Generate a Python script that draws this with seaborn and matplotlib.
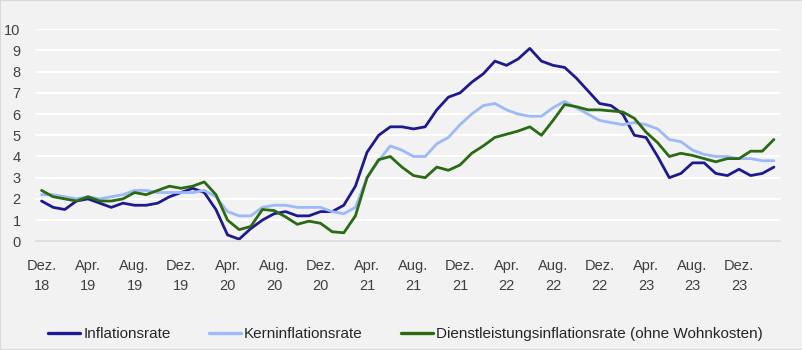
import matplotlib
matplotlib.use("Agg")
import matplotlib.pyplot as plt
import seaborn as sns
import pandas as pd
import numpy as np

months = pd.date_range("2018-12-01", "2024-03-01", freq="MS")
month_abbr = {1: "Jan.", 2: "Feb.", 3: "März", 4: "Apr.", 5: "Mai", 6: "Juni",
              7: "Juli", 8: "Aug.", 9: "Sep.", 10: "Okt.", 11: "Nov.", 12: "Dez."}

inflationsrate = [1.9, 1.6, 1.5, 1.9, 2.0, 1.8, 1.6, 1.8, 1.7, 1.7, 1.8, 2.1,
                  2.3, 2.5, 2.3, 1.5, 0.3, 0.1, 0.6, 1.0, 1.3, 1.4, 1.2, 1.2,
                  1.4, 1.4, 1.7, 2.6, 4.2, 5.0, 5.4, 5.4, 5.3, 5.4, 6.2, 6.8,
                  7.0, 7.5, 7.9, 8.5, 8.3, 8.6, 9.1, 8.5, 8.3, 8.2, 7.7, 7.1,
                  6.5, 6.4, 6.0, 5.0, 4.9, 4.0, 3.0, 3.2, 3.7, 3.7, 3.2, 3.1,
                  3.4, 3.1, 3.2, 3.5]
kerninflationsrate = [2.2, 2.2, 2.1, 2.0, 2.1, 2.0, 2.1, 2.2, 2.4, 2.4, 2.3, 2.3,
                      2.3, 2.3, 2.4, 2.1, 1.4, 1.2, 1.2, 1.6, 1.7, 1.7, 1.6, 1.6,
                      1.6, 1.4, 1.3, 1.6, 3.0, 3.8, 4.5, 4.3, 4.0, 4.0, 4.6, 4.9,
                      5.5, 6.0, 6.4, 6.5, 6.2, 6.0, 5.9, 5.9, 6.3, 6.6, 6.3, 6.0,
                      5.7, 5.6, 5.5, 5.6, 5.5, 5.3, 4.8, 4.7, 4.3, 4.1, 4.0, 4.0,
                      3.9, 3.9, 3.8, 3.8]
dienstleistung = [2.4, 2.1, 2.0, 1.9, 2.1, 1.9, 1.9, 2.0, 2.3, 2.2, 2.4, 2.6,
                  2.5, 2.6, 2.8, 2.2, 1.0, 0.55, 0.7, 1.5, 1.45, 1.15, 0.8, 0.95,
                  0.85, 0.45, 0.4, 1.2, 3.0, 3.85, 4.0, 3.5, 3.1, 3.0, 3.5, 3.35,
                  3.6, 4.15, 4.5, 4.9, 5.05, 5.2, 5.4, 5.0, 5.7, 6.45, 6.35, 6.2,
                  6.2, 6.15, 6.1, 5.8, 5.15, 4.65, 4.0, 4.15, 4.05, 3.9, 3.75, 3.9,
                  3.9, 4.25, 4.25, 4.8]

series_names = ["Inflationsrate", "Kerninflationsrate",
                "Dienstleistungsinflationsrate (ohne Wohnkosten)"]
colors = ["#1E1A8E", "#9DB9F9", "#2A6A12"]

idx = np.arange(len(months))
df = pd.DataFrame({
    "idx": np.tile(idx, 3),
    "Wert": inflationsrate + kerninflationsrate + dienstleistung,
    "Reihe": np.repeat(series_names, len(months)),
})

sns.set_theme(style="white")
plt.rcParams["font.family"] = ["Liberation Sans", "DejaVu Sans"]

bg = "#F2F2F2"
fig = plt.figure(figsize=(8.03, 3.5), dpi=100, facecolor=bg)
ax = fig.add_axes([0.0445, 0.3106, 0.9265, 0.6057])
ax.set_facecolor(bg)

sns.lineplot(data=df, x="idx", y="Wert", hue="Reihe", hue_order=series_names,
             palette=colors, linewidth=2.0, ax=ax, legend=True)

ax.set_xlim(-0.5, len(months) - 0.5)
ax.set_ylim(0, 10)
ax.set_yticks(range(0, 11))
ax.set_yticklabels([str(v) for v in range(0, 11)], fontsize=10.5, color="#404040")
tick_pos = idx[::4]
tick_lab = [f"{month_abbr[m.month]}\n{m.strftime('%y')}" for m in months[::4]]
ax.set_xticks(tick_pos)
ax.set_xticklabels(tick_lab, fontsize=10.5, color="#404040", linespacing=1.55,
                   multialignment="center")
ax.tick_params(axis="x", length=0, pad=12.5)
ax.tick_params(axis="y", length=0, pad=10.8)
ax.set_xlabel("")
ax.set_ylabel("")
ax.grid(axis="y", color="white", linewidth=1.5)
ax.set_axisbelow(True)
for s in ["top", "right", "left"]:
    ax.spines[s].set_visible(False)
ax.spines["bottom"].set_color("#D9D9D9")
ax.spines["bottom"].set_linewidth(1.2)

handles, labels = ax.get_legend_handles_labels()
for h in handles:
    h.set_linewidth(2.4)
ax.legend(handles, labels, loc="center", bbox_to_anchor=(0.505, 0.045),
          bbox_transform=fig.transFigure, ncol=3, frameon=False,
          fontsize=11, handlelength=2.1, handletextpad=0.2, columnspacing=2.5,
          labelcolor="#262626")

fig.patches.append(plt.Rectangle((0, 0), 1, 1, transform=fig.transFigure,
                                 fill=False, edgecolor="#D9D9D9", linewidth=1.5))
fig.savefig("out.png", dpi=100, facecolor=bg)
